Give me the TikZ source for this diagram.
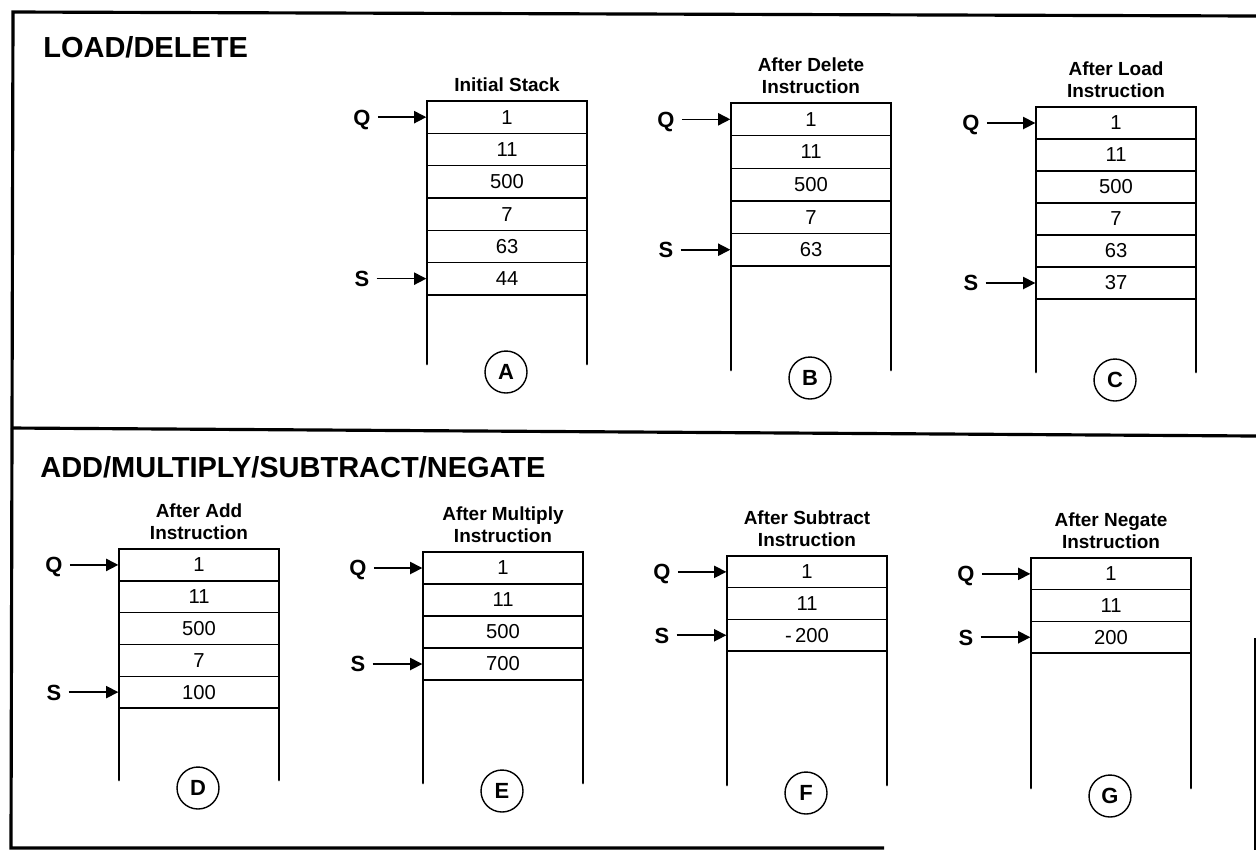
\documentclass[tikz,border=0pt]{standalone}
\usepackage{fontspec}
\setmainfont{Liberation Sans}
\usetikzlibrary{arrows.meta}
\tikzset{
  frame/.style={line width=1.8pt},
  wall/.style={line width=1.6pt, line cap=round},
  cell/.style={draw, line width=0.8pt, minimum width=3.2cm, inner sep=0pt, font=\fontsize{11.5}{13}\selectfont},
  heading/.style={font=\bfseries\fontsize{16.5}{20}\selectfont, inner sep=0pt, anchor=base west},
  caption/.style={font=\bfseries\fontsize{10.8}{12.6}\selectfont, align=center, inner sep=0pt, anchor=south},
  ptr/.style={font=\bfseries\fontsize{12.5}{14}\selectfont, inner sep=1pt, text height=9pt, text depth=0pt},
  ptrarrow/.style={line width=0.9pt, -{Triangle[length=7pt,width=7pt]}, shorten <=3pt},
  tag/.style={draw, circle, line width=0.8pt, minimum size=0.84cm, inner sep=0pt, font=\bfseries\fontsize{12.5}{14}\selectfont},
}
% #1 name, #2 left x, #3 top y, #4 row height, #5 wall bottom y, #6 values, #7 S index, #8 caption, #9 tag letter
\newcommand{\drawstack}[9]{%
  \foreach \v [count=\i] in {#6} {
    \node[cell, minimum height=#4*0.02cm] (#1c\i) at (#2+80, {#3+(\i-0.5)*#4}) {\v};
  }
  \coordinate (#1tl) at (#2,#3);
  \coordinate (#1tr) at (#2+160,#3);
  \coordinate (#1bl) at (#2,#5);
  \coordinate (#1br) at (#2+160,#5);
  \draw[wall] (#1bl) -- (#1tl) -- (#1tr) -- (#1br);
  \node[caption] (#1cap) at (#2+80,#3-9) {#8};
  \node[ptr] (#1Q) at (#2-65,#3+0.5*#4) {Q};
  \node[ptr] (#1S) at (#2-65,{#3+(#7-0.5)*#4}) {S};
  \draw[ptrarrow] (#1Q.east) -- (#1c1.west);
  \draw[ptrarrow] (#1S.east) -- (#1c#7.west);
  \node[tag] (#1tag) at (#2+79,#5+8) {#9};
}
\begin{document}
\begin{tikzpicture}[x=0.02cm,y=-0.02cm]
\useasboundingbox (0,0) rectangle (1256,850);
% frame
\coordinate (f1) at (13,12);
\coordinate (f2) at (1256,16);
\coordinate (f3) at (11,848);
\coordinate (f4) at (884,848);
\coordinate (m1) at (11,428);
\coordinate (m2) at (1256,436);
\coordinate (r1) at (1255,638);
\coordinate (r2) at (1255,850);
\draw[frame] (f2) -- (f1) -- (f3) -- (f4);
\draw[frame] (m1) -- (m2);
\draw[line width=1pt] (r1) -- (r2);
% headings
\node[heading] (h1) at (43,57) {LOAD/DELETE};
\node[heading] (h2) at (40,477) {ADD/MULTIPLY/SUBTRACT/NEGATE};
% stacks
\drawstack{A}{427}{101}{32.3}{364}{1,11,500,7,63,44}{6}{Initial Stack}{A}
\drawstack{B}{731}{103}{32.6}{370}{1,11,500,7,63}{5}{After Delete\\Instruction}{B}
\drawstack{C}{1036}{107}{32}{372}{1,11,500,7,63,37}{6}{After Load\\Instruction}{C}
\drawstack{D}{119}{549}{31.8}{780}{1,11,500,7,100}{5}{After Add\\Instruction}{D}
\drawstack{E}{423}{552}{32}{783}{1,11,500,700}{4}{After Multiply\\Instruction}{E}
\drawstack{F}{727}{556}{31.7}{785}{1,11,-\,200}{3}{After Subtract\\Instruction}{F}
\drawstack{G}{1031}{558}{31.7}{788}{1,11,200}{3}{After Negate\\Instruction}{G}
\end{tikzpicture}
\end{document}
